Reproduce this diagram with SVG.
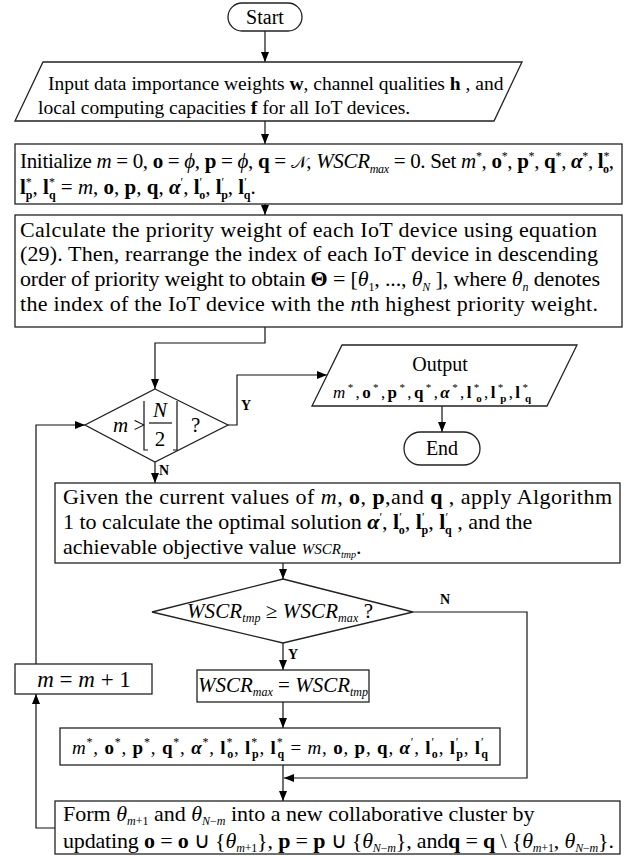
<svg xmlns="http://www.w3.org/2000/svg" width="631" height="856" viewBox="0 0 631 856">
<style>
.box{fill:#fff;stroke:#222;stroke-width:1.3}
.ln{fill:none;stroke:#111;stroke-width:1.2}
text{font-family:"Liberation Serif","Times New Roman",serif;fill:#000}
.i{font-style:italic}
.b{font-weight:bold}
.bi{font-weight:bold;font-style:italic}
.lbl{font-size:14px;font-weight:bold}
.cal{font-family:"DejaVu Serif","DejaVu Sans","Noto Sans",serif;font-size:17px}
</style>
<defs>
<marker id="ah" markerWidth="10" markerHeight="8" refX="10" refY="4" orient="auto" markerUnits="userSpaceOnUse"><path d="M0,0 L10,4 L0,8 z" fill="#000"/></marker>
</defs>
<g id="connectors">
<path class="ln" d="M265,31 V62" marker-end="url(#ah)"/>
<path class="ln" d="M265,121 V144" marker-end="url(#ah)"/>
<path class="ln" d="M265,204 V215" marker-end="url(#ah)"/>
<path class="ln" d="M265,327 V343 H155 V389" marker-end="url(#ah)"/>
<path class="ln" d="M228,425 H237 V375 H327" marker-end="url(#ah)"/>
<path class="ln" d="M442,406 V432" marker-end="url(#ah)"/>
<path class="ln" d="M155,462 V483" marker-end="url(#ah)"/>
<path class="ln" d="M283,563 V579" marker-end="url(#ah)"/>
<path class="ln" d="M413,612 H527 V778 H284" marker-end="url(#ah)"/>
<path class="ln" d="M283,643 V670" marker-end="url(#ah)"/>
<path class="ln" d="M283,702 V728" marker-end="url(#ah)"/>
<path class="ln" d="M283,765 V801" marker-end="url(#ah)"/>
<path class="ln" d="M55,828 H36 V694" marker-end="url(#ah)"/>
<path class="ln" d="M36,664 V425 H85" marker-end="url(#ah)"/>
<text class="lbl" x="241" y="410">Y</text>
<text class="lbl" x="159" y="475">N</text>
<text class="lbl" x="440" y="604">N</text>
<text class="lbl" x="288" y="659">Y</text>
</g>
<g id="start">
<rect class="box" x="228" y="3" width="74" height="28" rx="14"/>
<text x="265" y="23.5" font-size="20" text-anchor="middle">Start</text>
</g>
<g id="input">
<polygon class="box" points="43,62 522,62 494,121 15,121"/>
<text x="48" y="90" font-size="19.5">Input data importance weights <tspan class="b">w</tspan>, channel qualities <tspan class="b">h</tspan> , and</text>
<text x="38" y="114" font-size="19.5">local computing capacities <tspan class="b">f</tspan> for all IoT devices.</text>
</g>
<g id="init">
<rect class="box" x="15" y="144" width="607" height="60"/>
<text x="20" y="168" font-size="21" textLength="594">Initialize <tspan class="i">m</tspan> = 0, <tspan class="b">o</tspan> = <tspan class="i">ϕ</tspan>, <tspan class="b">p</tspan> = <tspan class="i">ϕ</tspan>, <tspan class="b">q</tspan> = <tspan class="cal">𝒩</tspan>, <tspan class="i">WSCR</tspan><tspan class="i" font-size="12" dy="5">max</tspan><tspan dy="-5"> = 0. Set </tspan><tspan class="i">m</tspan><tspan font-size="12" dy="-8">*</tspan><tspan dy="8">, </tspan><tspan class="b">o</tspan><tspan font-size="12" dy="-8">*</tspan><tspan dy="8">, </tspan><tspan class="b">p</tspan><tspan font-size="12" dy="-8">*</tspan><tspan dy="8">, </tspan><tspan class="b">q</tspan><tspan font-size="12" dy="-8">*</tspan><tspan dy="8">, </tspan><tspan class="bi">α</tspan><tspan font-size="12" dy="-8">*</tspan><tspan dy="8">, </tspan><tspan class="b">l</tspan><tspan font-size="12" dy="-8">*</tspan><tspan class="b" font-size="12" dx="-6" dy="13">o</tspan><tspan dy="-5">,</tspan></text>
<text x="20" y="194" font-size="21"><tspan class="b">l</tspan><tspan font-size="12" dy="-8">*</tspan><tspan class="b" font-size="12" dx="-6" dy="13">p</tspan><tspan dy="-5">, </tspan><tspan class="b">l</tspan><tspan font-size="12" dy="-8">*</tspan><tspan class="b" font-size="12" dx="-6" dy="13">q</tspan><tspan dy="-5"> = </tspan><tspan class="i">m</tspan>, <tspan class="b">o</tspan>, <tspan class="b">p</tspan>, <tspan class="b">q</tspan>, <tspan class="bi">α</tspan><tspan font-size="12" dy="-8">′</tspan><tspan dy="8">, </tspan><tspan class="b">l</tspan><tspan font-size="12" dy="-8">′</tspan><tspan class="b" font-size="12" dx="-3" dy="13">o</tspan><tspan dy="-5">, </tspan><tspan class="b">l</tspan><tspan font-size="12" dy="-8">′</tspan><tspan class="b" font-size="12" dx="-3" dy="13">p</tspan><tspan dy="-5">, </tspan><tspan class="b">l</tspan><tspan font-size="12" dy="-8">′</tspan><tspan class="b" font-size="12" dx="-3" dy="13">q</tspan><tspan dy="-5">.</tspan></text>
</g>
<g id="calc">
<rect class="box" x="15" y="215" width="607" height="112"/>
<text x="20" y="237" font-size="22" textLength="577">Calculate the priority weight of each IoT device using equation</text>
<text x="20" y="261" font-size="22" textLength="578">(29). Then, rearrange the index of each IoT device in descending</text>
<text x="20" y="286" font-size="22" textLength="580">order of priority weight to obtain <tspan class="b">Θ</tspan> = [<tspan class="i">θ</tspan><tspan font-size="12" dy="5">1</tspan><tspan dy="-5">, ..., </tspan><tspan class="i">θ</tspan><tspan class="i" font-size="12" dy="5">N</tspan><tspan dy="-5"> ], where </tspan><tspan class="i">θ</tspan><tspan class="i" font-size="12" dy="5">n</tspan><tspan dy="-5"> denotes</tspan></text>
<text x="20" y="311" font-size="22" textLength="578">the index of the IoT device with the <tspan class="i">n</tspan>th highest priority weight.</text>
</g>
<g id="cond1">
<polygon class="box" points="155,389 228,425 155,462 85,425"/>
<text x="113" y="432" font-size="21"><tspan class="i">m</tspan> &gt;</text>
<text x="160" y="417" font-size="21" text-anchor="middle" class="i">N</text>
<line class="ln" x1="149" y1="423" x2="172" y2="423"/>
<text x="160" y="446" font-size="21" text-anchor="middle">2</text>
<path class="ln" d="M144,401 V450 H148 M177,401 V450 H173"/>
<text x="191" y="432" font-size="21">?</text>
</g>
<g id="output">
<polygon class="box" points="342,345 577,345 547,406 312,406"/>
<text x="440" y="371" font-size="20" text-anchor="middle">Output</text>
<text x="432" y="398" font-size="17" text-anchor="middle" textLength="198"><tspan class="i">m</tspan><tspan font-size="11" dy="-7">*</tspan><tspan dy="7">,</tspan><tspan class="b">o</tspan><tspan font-size="11" dy="-7">*</tspan><tspan dy="7">,</tspan><tspan class="b">p</tspan><tspan font-size="11" dy="-7">*</tspan><tspan dy="7">,</tspan><tspan class="b">q</tspan><tspan font-size="11" dy="-7">*</tspan><tspan dy="7">,</tspan><tspan class="bi">α</tspan><tspan font-size="11" dy="-7">*</tspan><tspan dy="7">,</tspan><tspan class="b">l</tspan><tspan font-size="11" dy="-7">*</tspan><tspan class="b" font-size="11" dx="-5.5" dy="11">o</tspan><tspan dy="-4">,</tspan><tspan class="b">l</tspan><tspan font-size="11" dy="-7">*</tspan><tspan class="b" font-size="11" dx="-5.5" dy="11">p</tspan><tspan dy="-4">,</tspan><tspan class="b">l</tspan><tspan font-size="11" dy="-7">*</tspan><tspan class="b" font-size="11" dx="-5.5" dy="11">q</tspan></text>
</g>
<g id="end">
<rect class="box" x="404" y="432" width="76" height="33" rx="16.5"/>
<text x="442" y="455" font-size="20" text-anchor="middle">End</text>
</g>
<g id="given">
<rect class="box" x="55" y="483" width="565" height="80"/>
<text x="63" y="504" font-size="22" textLength="549">Given the current values of <tspan class="i">m</tspan>, <tspan class="b">o</tspan>, <tspan class="b">p</tspan>,and <tspan class="b">q</tspan> , apply Algorithm</text>
<text x="63" y="529" font-size="22">1 to calculate the optimal solution <tspan class="bi">α</tspan><tspan font-size="12" dy="-8">′</tspan><tspan dy="8">, </tspan><tspan class="b">l</tspan><tspan font-size="12" dy="-8">′</tspan><tspan class="b" font-size="12" dx="-3" dy="13">o</tspan><tspan dy="-5">, </tspan><tspan class="b">l</tspan><tspan font-size="12" dy="-8">′</tspan><tspan class="b" font-size="12" dx="-3" dy="13">p</tspan><tspan dy="-5">, </tspan><tspan class="b">l</tspan><tspan font-size="12" dy="-8">′</tspan><tspan class="b" font-size="12" dx="-3" dy="13">q</tspan><tspan dy="-5"> , and the</tspan></text>
<text x="63" y="554" font-size="22">achievable objective value <tspan class="i" font-size="15">WSCR</tspan><tspan class="i" font-size="10" dy="4">tmp</tspan><tspan dy="-4">.</tspan></text>
</g>
<g id="cond2">
<polygon class="box" points="283,579 413,612 283,643 152,612"/>
<text x="280" y="618" font-size="21" text-anchor="middle" textLength="186"><tspan class="i">WSCR</tspan><tspan class="i" font-size="12" dy="4">tmp</tspan><tspan dy="-4"> ≥ </tspan><tspan class="i">WSCR</tspan><tspan class="i" font-size="12" dy="4">max</tspan><tspan dy="-4">   ?</tspan></text>
</g>
<g id="update-max">
<rect class="box" x="197" y="670" width="172" height="32"/>
<text x="283" y="692" font-size="21" text-anchor="middle"><tspan class="i">WSCR</tspan><tspan class="i" font-size="12" dy="4">max</tspan><tspan dy="-4"> = </tspan><tspan class="i">WSCR</tspan><tspan class="i" font-size="12" dy="4">tmp</tspan></text>
</g>
<g id="increment">
<rect class="box" x="15" y="664" width="137" height="30"/>
<text x="84" y="687" font-size="23" text-anchor="middle"><tspan class="i">m</tspan> = <tspan class="i">m</tspan> + 1</text>
</g>
<g id="assign">
<rect class="box" x="60" y="728" width="440" height="37"/>
<text x="280" y="754" font-size="19" text-anchor="middle" textLength="416"><tspan class="i">m</tspan><tspan font-size="12" dy="-8">*</tspan><tspan dy="8">, </tspan><tspan class="b">o</tspan><tspan font-size="12" dy="-8">*</tspan><tspan dy="8">, </tspan><tspan class="b">p</tspan><tspan font-size="12" dy="-8">*</tspan><tspan dy="8">, </tspan><tspan class="b">q</tspan><tspan font-size="12" dy="-8">*</tspan><tspan dy="8">, </tspan><tspan class="bi">α</tspan><tspan font-size="12" dy="-8">*</tspan><tspan dy="8">, </tspan><tspan class="b">l</tspan><tspan font-size="12" dy="-8">*</tspan><tspan class="b" font-size="12" dx="-6" dy="12">o</tspan><tspan dy="-4">, </tspan><tspan class="b">l</tspan><tspan font-size="12" dy="-8">*</tspan><tspan class="b" font-size="12" dx="-6" dy="12">p</tspan><tspan dy="-4">, </tspan><tspan class="b">l</tspan><tspan font-size="12" dy="-8">*</tspan><tspan class="b" font-size="12" dx="-6" dy="12">q</tspan><tspan dy="-4"> = </tspan><tspan class="i">m</tspan>, <tspan class="b">o</tspan>, <tspan class="b">p</tspan>, <tspan class="b">q</tspan>, <tspan class="bi">α</tspan><tspan font-size="12" dy="-8">′</tspan><tspan dy="8">, </tspan><tspan class="b">l</tspan><tspan font-size="12" dy="-8">′</tspan><tspan class="b" font-size="12" dx="-3" dy="12">o</tspan><tspan dy="-4">, </tspan><tspan class="b">l</tspan><tspan font-size="12" dy="-8">′</tspan><tspan class="b" font-size="12" dx="-3" dy="12">p</tspan><tspan dy="-4">, </tspan><tspan class="b">l</tspan><tspan font-size="12" dy="-8">′</tspan><tspan class="b" font-size="12" dx="-3" dy="12">q</tspan></text>
</g>
<g id="form">
<rect class="box" x="55" y="801" width="565" height="53"/>
<text x="63" y="821" font-size="22">Form <tspan class="i">θ</tspan><tspan font-size="12" dy="4"><tspan class="i">m</tspan>+1</tspan><tspan dy="-4"> and  </tspan><tspan class="i">θ</tspan><tspan font-size="12" dy="4"><tspan class="i">N</tspan>−<tspan class="i">m</tspan></tspan><tspan dy="-4"> into a new collaborative cluster by</tspan></text>
<text x="63" y="848" font-size="22" textLength="551">updating  <tspan class="b">o</tspan> = <tspan class="b">o</tspan> ∪ {<tspan class="i">θ</tspan><tspan font-size="12" dy="4"><tspan class="i">m</tspan>+1</tspan><tspan dy="-4">}, </tspan><tspan class="b">p</tspan> = <tspan class="b">p</tspan> ∪ {<tspan class="i">θ</tspan><tspan font-size="12" dy="4"><tspan class="i">N</tspan>−<tspan class="i">m</tspan></tspan><tspan dy="-4">},  and</tspan><tspan class="b">q</tspan> = <tspan class="b">q</tspan> \ {<tspan class="i">θ</tspan><tspan font-size="12" dy="4"><tspan class="i">m</tspan>+1</tspan><tspan dy="-4">, </tspan><tspan class="i">θ</tspan><tspan font-size="12" dy="4"><tspan class="i">N</tspan>−<tspan class="i">m</tspan></tspan><tspan dy="-4">}.</tspan></text>
</g>
</svg>
